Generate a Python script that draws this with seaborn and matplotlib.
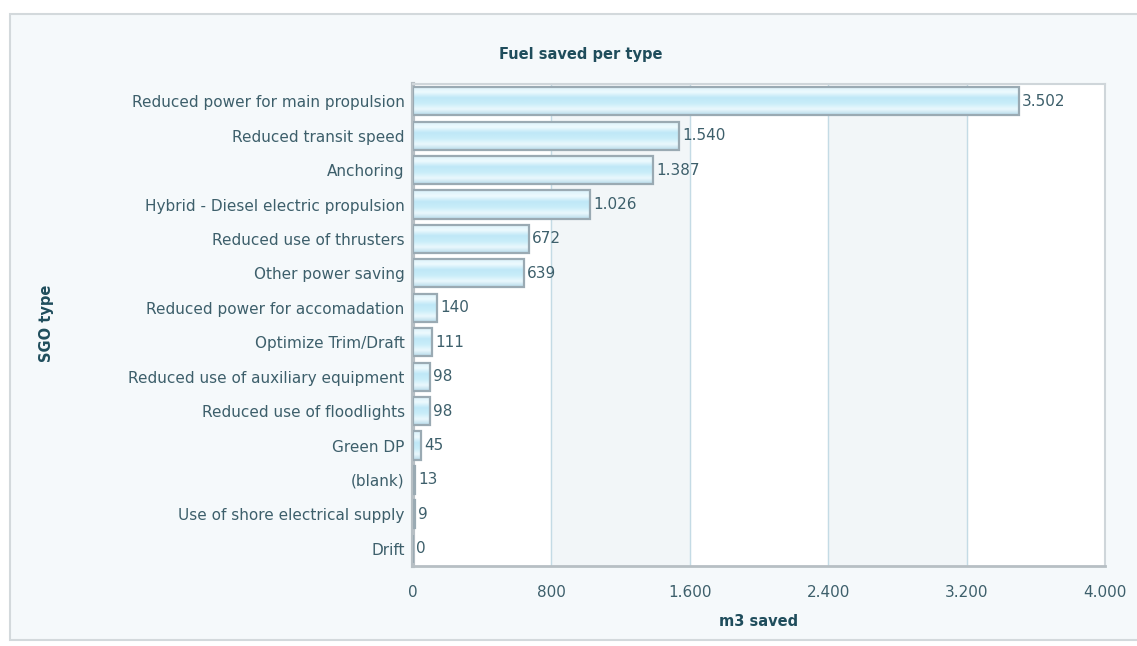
import matplotlib
matplotlib.use("Agg")
import matplotlib.pyplot as plt
import seaborn as sns
import numpy as np
import pandas as pd
from matplotlib.patches import Rectangle
from matplotlib.colors import LinearSegmentedColormap

categories = [
    "Reduced power for main propulsion",
    "Reduced transit speed",
    "Anchoring",
    "Hybrid - Diesel electric propulsion",
    "Reduced use of thrusters",
    "Other power saving",
    "Reduced power for accomadation",
    "Optimize Trim/Draft",
    "Reduced use of auxiliary equipment",
    "Reduced use of floodlights",
    "Green DP",
    "(blank)",
    "Use of shore electrical supply",
    "Drift",
]
values = [3502, 1540, 1387, 1026, 672, 639, 140, 111, 98, 98, 45, 13, 9, 0]
xticks = [0, 800, 1600, 2400, 3200, 4000]

df = pd.DataFrame({"type": categories, "saved": values})

sns.set_theme(style="white")
plt.rcParams["font.family"] = ["DejaVu Sans"]

txt = "#3d5f6b"
dark = "#1f4d5c"

fig = plt.figure(figsize=(11.37, 6.46), dpi=100)
fig.patch.set_facecolor("white")
# outer panel
fig.patches.append(Rectangle((10 / 1137, 6 / 646), 1.0, 626 / 646, transform=fig.transFigure,
                             facecolor="#f5f9fb", edgecolor="#d3d9dc", linewidth=1.5, zorder=-5))

ax = fig.add_axes([413 / 1137, 1 - 566 / 646, (1105 - 413) / 1137, (566 - 84) / 646])
ax.set_zorder(3)
ax.set_facecolor("white")

sns.barplot(data=df, x="saved", y="type", orient="h", ax=ax, color="#cdeefa",
            width=0.82, edgecolor="#9aaab3", linewidth=1.6, zorder=3)

cmap = LinearSegmentedColormap.from_list(
    "barg", ["#d9f2fb", "#eefafe", "#bfe8f7", "#c9edf9", "#eaf8fd", "#b8dcea"])
gy = np.linspace(0, 1, 60).reshape(-1, 1)
for p in list(ax.patches):
    x0, y0 = p.get_x(), p.get_y()
    w, h = p.get_width(), p.get_height()
    if w <= 0:
        continue
    im = ax.imshow(gy, cmap=cmap, aspect="auto", extent=(x0, x0 + w, y0 + h, y0),
                   zorder=3.5, interpolation="bilinear")
    im.set_clip_path(p)
    p.set_facecolor("none")
    p.set_zorder(4)

ax.set_xlim(0, 4000)
ax.set_ylim(len(categories) - 0.5, -0.5)
ax.set_aspect("auto")

for a, b in [(800, 1600), (2400, 3200)]:
    ax.axvspan(a, b, color="#f2f6f8", zorder=0)
for xv in xticks[1:-1]:
    ax.axvline(xv, color="#c4dbe5", linewidth=1.0, zorder=1)

ax.set_xticks(xticks)
ax.set_xticklabels([f"{v:,}".replace(",", ".") for v in xticks], color=txt, fontsize=11)
ax.tick_params(axis="x", length=0, pad=14)
ax.tick_params(axis="y", length=0, pad=6)
for lab in ax.get_yticklabels():
    lab.set_color(txt)
    lab.set_fontsize(11)

for i, v in enumerate(values):
    ax.text(v + 18, i, f"{v:,}".replace(",", "."), va="center", ha="left",
            color=txt, fontsize=11, zorder=5)

for side in ["top", "right"]:
    ax.spines[side].set_color("#cfd6da")
    ax.spines[side].set_linewidth(1.5)
ax.spines["left"].set_color("#b7bfc4")
ax.spines["left"].set_linewidth(3)
ax.spines["bottom"].set_color("#b7bfc4")
ax.spines["bottom"].set_linewidth(2)

ax.set_xlabel("m3 saved", fontsize=10.5, fontweight="bold", color=dark, labelpad=10)
ax.set_ylabel("")
fig.text(47 / 1137, 1 - 323 / 646, "SGO type", rotation=90, fontsize=10.5,
         fontweight="bold", color=dark, ha="center", va="center")
fig.text(581 / 1137, 1 - 55 / 646, "Fuel saved per type", fontsize=10.5,
         fontweight="bold", color=dark, ha="center", va="center")

fig.savefig("out.png", dpi=100)
